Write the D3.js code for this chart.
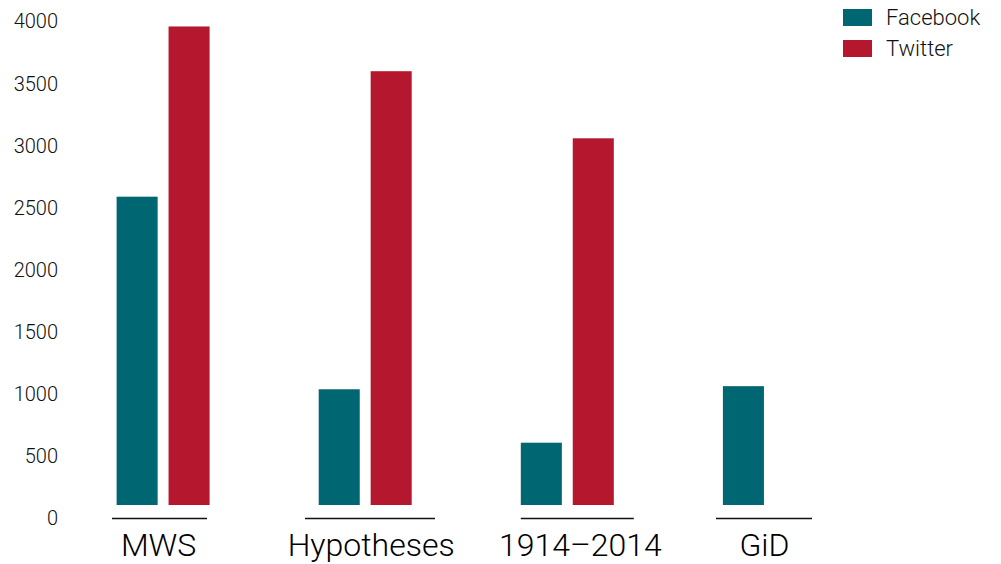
<!DOCTYPE html>
<html>
<head>
<meta charset="UTF-8">
<script src="https://cdnjs.cloudflare.com/ajax/libs/d3/7.8.5/d3.min.js"></script>
<style>
body { margin: 0; background: #fff; }
svg { display: block; font-family: Roboto, 'Liberation Sans', sans-serif; }
</style>
</head>
<body>
<script>
// data
var categories = ["MWS", "Hypotheses", "1914\u20132014", "GiD"];
var series = ["Facebook", "Twitter"];
var facebook = [2590, 1040, 610, 1065];
var twitter = [3960, 3600, 3060, null];
var yTicks = [0, 500, 1000, 1500, 2000, 2500, 3000, 3500, 4000];
var colors = ["#006671", "#b5182e"];

var width = 1001, height = 564;

var svg = d3.select("body").append("svg")
    .attr("width", width)
    .attr("height", height);

var y = d3.scaleLinear()
    .domain([0, 4000])
    .range([518.5, 21.5]);

// bars stop a little above the zero line, like in the original
var barBase = y(0) - 13.5;

var x = d3.scaleBand()
    .domain(categories)
    .range([116.6, 116.6 + 202.1 * 4])
    .paddingInner(0)
    .paddingOuter(0);

var inner = d3.scaleBand()
    .domain(series)
    .range([0, 93])
    .paddingInner(0.21);

// y axis, labels only
var yAxis = svg.append("g")
    .attr("transform", "translate(58,0)")
    .call(d3.axisLeft(y).tickValues(yTicks).tickFormat(d3.format("d")).tickSize(0).tickPadding(0));
yAxis.select(".domain").remove();
yAxis.selectAll("text")
    .attr("font-family", "Roboto, sans-serif")
    .attr("font-weight", 300)
    .attr("font-size", 20)
    .attr("fill", "#111");

var rows = categories.map(function(c, i) {
    return { cat: c, values: [facebook[i], twitter[i]] };
});

var groups = svg.append("g").selectAll("g")
    .data(rows)
    .enter().append("g")
    .attr("transform", function(d) { return "translate(" + x(d.cat) + ",0)"; });

groups.selectAll("rect")
    .data(function(d) {
        return series.map(function(s, j) { return { s: s, v: d.values[j], j: j }; })
            .filter(function(e) { return e.v != null; });
    })
    .enter().append("rect")
    .attr("x", function(d) { return inner(d.s); })
    .attr("width", inner.bandwidth())
    .attr("y", function(d) { return y(d.v); })
    .attr("height", function(d) { return barBase - y(d.v); })
    .attr("fill", function(d) { return colors[d.j]; });

// short rules under each group (extents differ per group)
var rulePad = [[4.6, -2.6], [13.7, 23.3], [0, 20], [6.9, -3.9]];
var rule = svg.append("g");
rows.forEach(function(d, i) {
    var x0 = x(d.cat);
    rule.append("line")
        .attr("x1", x0 - rulePad[i][0])
        .attr("x2", x0 + inner.range()[1] + rulePad[i][1])
        .attr("y1", 518.5)
        .attr("y2", 518.5)
        .attr("stroke", "#111")
        .attr("stroke-width", 1.3);
});

var labelOffset = [-4.5, 6, 13, -5];
svg.append("g").selectAll("text")
    .data(categories)
    .enter().append("text")
    .attr("x", function(d, i) { return x(d) + inner.range()[1] / 2 + labelOffset[i]; })
    .attr("y", 556)
    .attr("text-anchor", "middle")
    .attr("font-weight", 300)
    .attr("font-size", 32)
    .attr("fill", "#000")
    .text(function(d) { return d; });

// legend
var legend = svg.append("g")
    .attr("transform", "translate(843,9)");
var li = legend.selectAll("g")
    .data(series)
    .enter().append("g")
    .attr("transform", function(d, i) { return "translate(0," + (i * 31) + ")"; });
li.append("rect")
    .attr("width", 29)
    .attr("height", 17)
    .attr("fill", function(d, i) { return colors[i]; });
li.append("text")
    .attr("x", 43)
    .attr("y", 16)
    .attr("font-weight", 300)
    .attr("font-size", 22)
    .attr("fill", "#111")
    .text(function(d) { return d; });
</script>
</body>
</html>
